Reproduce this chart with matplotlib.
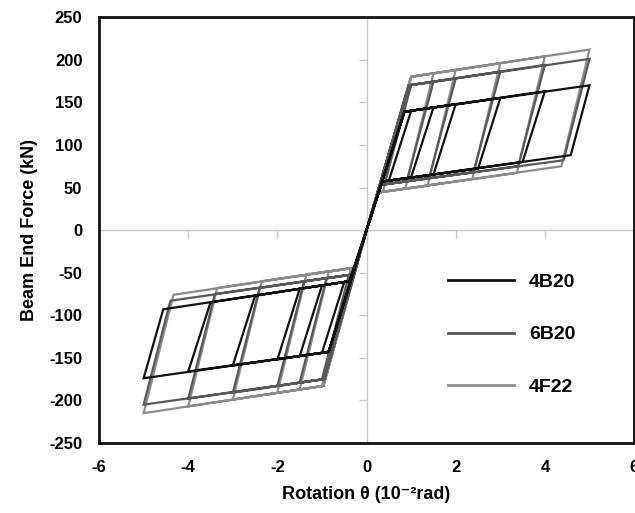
import matplotlib
matplotlib.use("Agg")
import matplotlib.pyplot as plt
import numpy as np

plt.rcParams['font.family'] = ['Liberation Sans', 'DejaVu Sans']
plt.rcParams['font.weight'] = 'bold'
plt.rcParams['axes.unicode_minus'] = False

# target amplitudes (10^-2 rad)
amps = [1.0, 1.5, 2.0, 3.0, 4.0, 5.0]

names = ['4F22', '6B20', '4B20']
colors = ['#8c8c8c', '#585858', '#111111']

# positive side: yield point, start of lower line, peak forces, unload end points
pos_yield = [(1.00, 180), (0.95, 170), (0.85, 139)]
pos_low_start = [(0.25, 44), (0.30, 53), (0.35, 57)]
pos_peak_F = [
    [180, 184, 188, 196, 204, 212],
    [170, 174, 178, 186, 194, 201],
    [140, 144, 148, 155, 163, 170],
]
pos_unload_x = [
    [0.37, 0.87, 1.37, 2.37, 3.37, 4.37],
    [0.40, 0.90, 1.40, 2.40, 3.40, 4.42],
    [0.50, 1.00, 1.50, 2.50, 3.50, 4.58],
]
pos_unload_F = [
    [45, 49, 52, 60, 67, 75],
    [54, 57, 61, 68, 75, 82],
    [58, 62, 65, 72, 80, 88],
]

# negative side
neg_yield = [(-0.97, -183), (-0.95, -175), (-0.85, -143)]
neg_low_start = [(-0.25, -44), (-0.30, -52), (-0.38, -60)]
neg_peak_F = [
    [-183, -187, -191, -199, -207, -215],
    [-175, -179, -183, -191, -198, -205],
    [-144, -148, -152, -159, -166, -174],
]
neg_unload_x = [
    [-0.35, -0.85, -1.35, -2.35, -3.35, -4.33],
    [-0.40, -0.90, -1.40, -2.40, -3.40, -4.40],
    [-0.50, -1.00, -1.50, -2.50, -3.50, -4.56],
]
neg_unload_F = [
    [-45, -49, -52, -60, -68, -76],
    [-53, -57, -60, -68, -75, -83],
    [-61, -65, -69, -77, -85, -93],
]

yticks = [-250, -200, -150, -100, -50, 0, 50, 100, 150, 200, 250]
xticks = [-6, -4, -2, 0, 2, 4, 6]


def loop_path(i):
    xs, ys = [], []
    for k, d in enumerate(amps):
        # positive excursion
        xs += [0, pos_yield[i][0], d, pos_unload_x[i][k], pos_low_start[i][0], 0]
        ys += [0, pos_yield[i][1], pos_peak_F[i][k], pos_unload_F[i][k], pos_low_start[i][1], 0]
        # negative excursion
        xs += [neg_yield[i][0], -d, neg_unload_x[i][k], neg_low_start[i][0], 0]
        ys += [neg_yield[i][1], neg_peak_F[i][k], neg_unload_F[i][k], neg_low_start[i][1], 0]
    return xs, ys


fig = plt.figure(figsize=(6.35, 5.13), dpi=100)
ax = fig.add_axes([0.156, 0.1365, 0.8425, 0.830])

# axes through origin (light grey) with small ticks
ax.axhline(0, color='#c8c8c8', lw=1.0, zorder=1)
ax.axvline(0, color='#c8c8c8', lw=1.0, zorder=1)
ax.plot(np.zeros(len(yticks)), yticks, ls='none', marker=0, ms=6,
        mec='#c8c8c8', mew=1.0, zorder=1)
ax.plot(xticks, np.zeros(len(xticks)), ls='none', marker=3, ms=6,
        mec='#c8c8c8', mew=1.0, zorder=1)

for i in range(len(names)):
    xs, ys = loop_path(i)
    ax.plot(xs, ys, color=colors[i], lw=1.6, zorder=2 + i, solid_joinstyle='miter')

# legend in order 4B20, 6B20, 4F22
handles = [plt.Line2D([], [], color=colors[2], lw=2),
           plt.Line2D([], [], color=colors[1], lw=2),
           plt.Line2D([], [], color=colors[0], lw=2)]
ax.legend(handles, ['4B20', '6B20', '4F22'], loc='upper left',
          bbox_to_anchor=(0.62, 0.44), frameon=False, fontsize=14,
          handlelength=3.4, handletextpad=0.75, labelspacing=1.8)

ax.set_xlim(-6, 6)
ax.set_ylim(-250, 250)
ax.set_xticks(xticks)
ax.set_yticks(yticks)
ax.tick_params(length=0, labelsize=12, pad=12)
for s in ax.spines.values():
    s.set_linewidth(2.0)
    s.set_color('#111111')

ax.set_xlabel('Rotation θ (10⁻²rad)', fontsize=13, fontweight='bold', labelpad=8)
ax.set_ylabel('Beam End Force (kN)', fontsize=13, fontweight='bold', labelpad=8)

fig.savefig('out.png', dpi=100)
